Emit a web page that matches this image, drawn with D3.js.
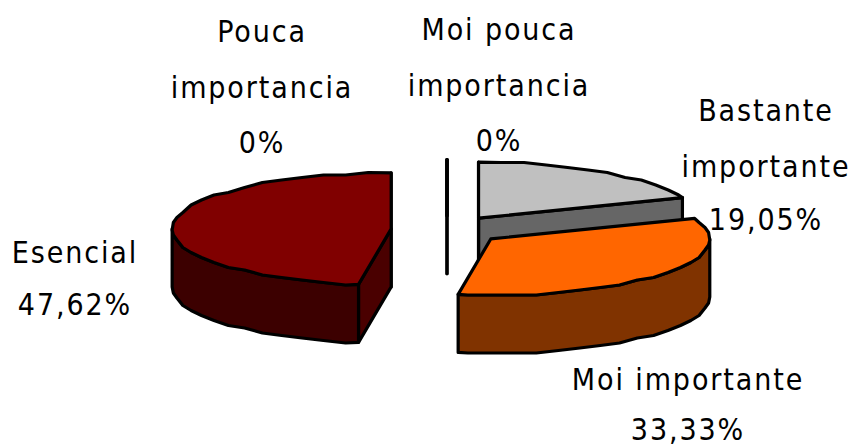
<!DOCTYPE html>
<html><head><meta charset="utf-8">
<script src="https://cdn.jsdelivr.net/npm/d3@7"></script>
<style>html,body{margin:0;background:#fff}svg{display:block}
text{font-family:"DejaVu Sans Condensed","DejaVu Sans",sans-serif;font-stretch:condensed;font-size:30px;fill:#000;letter-spacing:1.9px;text-anchor:middle}</style>
</head><body><svg width="853" height="447"></svg>
<script>
// Data, clockwise from twelve o'clock
const categories = ["Moi pouca importancia","Bastante importante","Moi importante","Esencial","Pouca importancia"];
const values = [0, 19.05, 33.33, 47.62, 0];
const valueLabels = ["0%","19,05%","33,33%","47,62%","0%"];
const topColors = ["#c0c0c0","#c0c0c0","#ff6600","#800000","#800000"];
const rimColors = ["#606060","#606060","#803300","#3c0000","#3c0000"];
const radialColors = ["#000000","#666666","#803300","#4a0000","#000000"];
const labelLines = [["Moi pouca","importancia"],["Bastante","importante"],["Moi importante"],["Esencial"],["Pouca","importancia"]];

// Layout
const svg = d3.select("svg");
const centre = {x:447, y:230}, radius = 219, explode = 56, tilt = 0.256, depth = 58;
const labelAnchors = [
  {x:499, y:[40,96,151]},
  {x:766, y:[121,177,230]},
  {x:688, y:[390,439.5]},
  {x:75,  y:[263,315]},
  {x:262, y:[42,98,153]}
];

const pie = d3.pie().sort(null).value(d=>d)(values);

// Plane projection: circular pie seen from above
const xS = d3.scaleLinear().domain([-1,1]).range([-radius,radius]);
const yS = d3.scaleLinear().domain([-1,1]).range([radius*tilt,-radius*tilt]);
const STEP = Math.PI/30;
const quant = v => Math.round(v/2.5)*2.5;

function origin(s){
  const m=(s.startAngle+s.endAngle)/2, e=explode/radius;
  return {x:centre.x+xS(Math.sin(m)*e), y:centre.y+yS(Math.cos(m)*e)};
}
function rim(o,a){ return {x:o.x+xS(Math.sin(a)), y:o.y+yS(Math.cos(a))}; }
// Points on a fixed angular grid, so the top face and outer wall share one edge
function arcPts(o,a0,a1){
  const pts=[rim(o,a0)];
  for(let k=Math.floor(a0/STEP)+1;k*STEP<a1-1e-6;k++){
    const p=rim(o,k*STEP);
    pts.push({x:p.x,y:quant(p.y)});
  }
  pts.push(rim(o,a1));
  return pts;
}
const line = d3.line().x(d=>d.x).y(d=>d.y);
const shift = p=>({x:p.x,y:p.y+depth});

function closed(pts,fill){
  svg.append("path").attr("d",line(pts)+"Z").attr("fill",fill)
    .attr("stroke","#000").attr("stroke-width",3.2).attr("stroke-linejoin","round");
}
function drawSlice(i){
  const s=pie[i], o=origin(s), a0=s.startAngle, a1=s.endAngle;
  // radial walls facing the viewer
  if(Math.sin(a1)>=-1e-6){const p=rim(o,a1);closed([o,p,shift(p),shift(o)],radialColors[i]);}
  if(Math.sin(a0)<=1e-6 && a1>a0){const p=rim(o,a0);closed([o,p,shift(p),shift(o)],radialColors[i]);}
  // outer wall, front half only
  const f0=Math.max(a0,Math.PI/2), f1=Math.min(a1,Math.PI*1.5);
  if(f1>f0){
    const t=arcPts(o,f0,f1);
    closed(t.concat(t.slice().reverse().map(shift)),rimColors[i]);
  }
  // top face
  closed([o].concat(arcPts(o,a0,a1)),topColors[i]);
}
[3,1,0,4,2].forEach(drawSlice);

// Labels
categories.forEach((c,i)=>{
  const lines=labelLines[i].concat([valueLabels[i]]);
  lines.forEach((t,j)=>{
    svg.append("text").attr("x",labelAnchors[i].x).attr("y",labelAnchors[i].y[j]).text(t);
  });
});
</script></body></html>
